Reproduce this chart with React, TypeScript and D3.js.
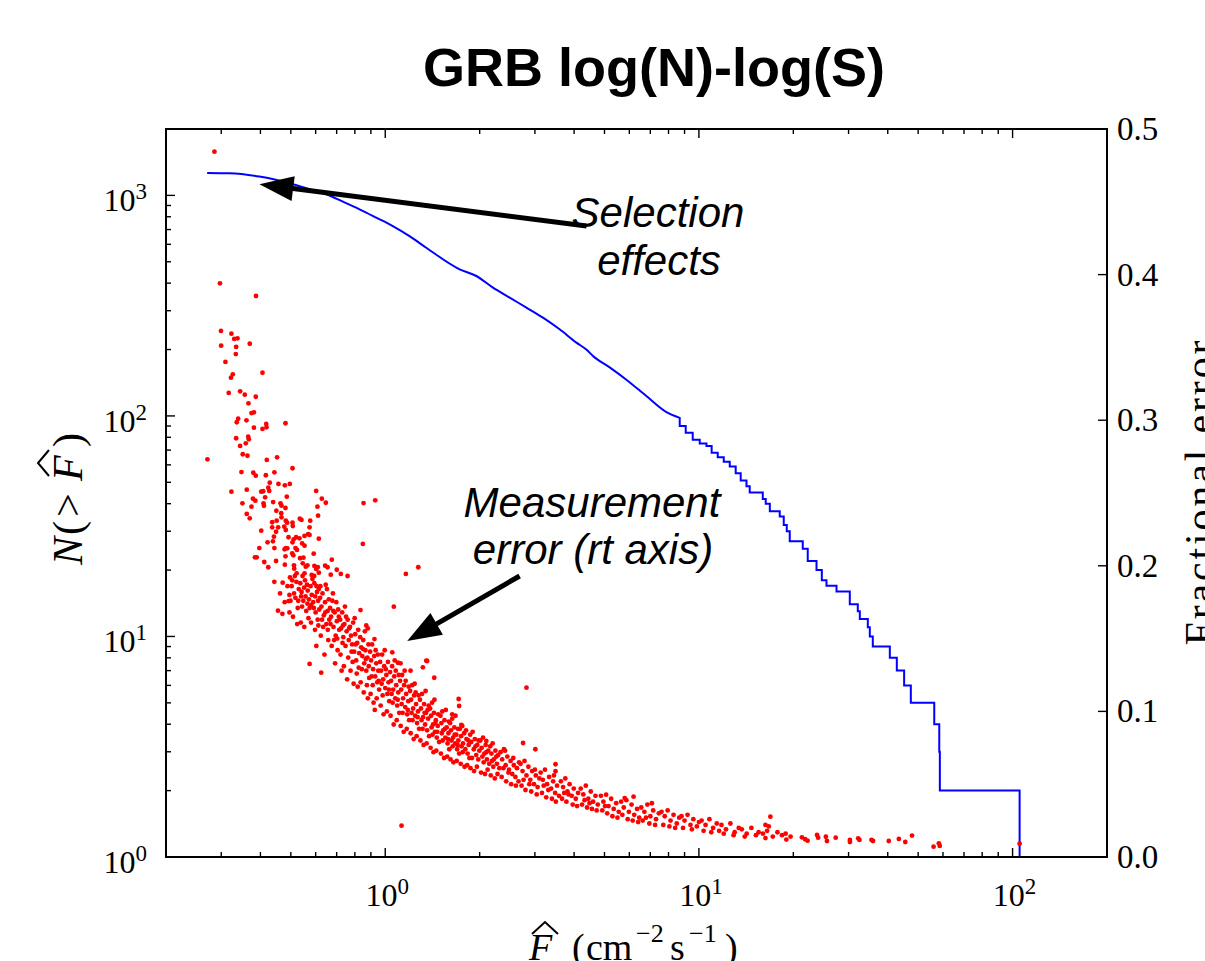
import React from "react";
import * as d3 from "d3";

const W = 1205;
const H = 961;
const M = { left: 166, right: 1107, top: 129, bottom: 857 };

// ---- axis ticks / labels ----
const xDomain = [0.2, 200];
const yDomain = [1, 2000];
const rDomain = [0, 0.5];
const xMajorTicks = [1, 10, 100];
const xTickExponents = ["0", "1", "2"];
const yMajorTicks = [1, 10, 100, 1000];
const yTickExponents = ["0", "1", "2", "3"];
const rightTicks = [0, 0.1, 0.2, 0.3, 0.4, 0.5];
const rightTickLabels = ["0.0", "0.1", "0.2", "0.3", "0.4", "0.5"];

// ---- cumulative counts N(>F) (blue) ----
const headFlux = [0.2705, 0.3187, 0.397, 0.5073, 0.5735, 0.6483, 0.7326, 0.828, 0.936, 1.057, 1.195, 1.351, 1.726, 1.951, 2.199, 2.492, 2.818, 3.183, 3.597, 4.068, 4.376, 4.594, 5.194, 5.871, 6.8, 7.88, 8.686];
const headCount = [1264, 1260, 1217, 1123, 1066, 1012, 937, 865, 793, 726, 654, 579, 462, 431, 383, 344, 310, 279, 247, 215, 200, 187, 166, 146, 123, 104, 98];
const stepFlux = [8.686, 9.077, 9.555, 10.06, 10.57, 10.98, 11.48, 12.0, 12.54, 13.1, 13.59, 14.18, 14.52, 15.98, 16.33, 16.83, 18.1, 18.64, 19.06, 19.48, 21.43, 22.23, 23.71, 24.65, 25.51, 27.46, 30.27, 32.1, 32.58, 34.55, 35.06, 35.84, 40.61, 42.75, 45.11, 47.38, 56.27, 58.38, 58.63, 105.3];
const stepCount = [90, 84, 78, 75, 73, 68, 65, 62, 59, 55, 51, 48, 45, 42, 40, 37, 35, 32, 30, 27, 25, 22, 20, 18, 17, 16, 14, 13, 12, 11, 10, 9, 8, 7, 6, 5, 4, 3, 2, 1];

// ---- fractional errors (red, right axis): [flux, error] ----
const sparseErrors = [
[0.2854,0.4844],[0.2972,0.394],[0.3872,0.3853],[0.2994,0.3613],[0.3233,0.3594],[0.33,0.3558],[0.338,0.3562],[0.3699,0.3525],[0.2998,0.3512],[0.3347,0.3503],[0.3339,0.3454],[0.3094,0.34],[0.4061,0.3326],[0.3266,0.3315],[0.3223,0.3292],[0.317,0.3187],[0.3446,0.3198],[0.3566,0.3175],[0.3866,0.3161],[0.3664,0.3116],[0.3746,0.3049],[0.3813,0.3054],[0.3397,0.301],[0.3362,0.2986],[0.361,0.2999],[0.3813,0.2949],[0.4061,0.294],[0.4183,0.2951],[0.4174,0.2974],[0.4808,0.2979],[0.3347,0.2876],[0.3657,0.2887],[0.3673,0.2869],[0.3593,0.2841],[0.3446,0.2823],[0.3514,0.2766],[0.3637,0.2756],[0.2711,0.2731],[0.4192,0.2727],[0.452,0.2745],[0.5062,0.267],[0.348,0.2644],[0.3797,0.2639],[0.3866,0.2619],[0.4163,0.2622],[0.4432,0.2642],[0.4284,0.2571],[0.4238,0.2536],[0.4267,0.2514],[0.4566,0.2562],[0.4786,0.2553],[0.4963,0.2562],[0.3233,0.2509],[0.3618,0.2523],[0.4024,0.2509],[0.4082,0.2512],[0.4141,0.247],[0.6023,0.2514],[0.6278,0.2461],[0.6465,0.2433],[0.8527,0.2431],[0.9291,0.245],[0.3505,0.2429],[0.3786,0.2461],[0.3853,0.2447],[0.3746,0.2406],[0.4092,0.2429],[0.4105,0.2412],[0.4391,0.2438],[0.4635,0.2429],[0.4669,0.2413],[0.4808,0.2397],[0.4854,0.2475],[0.6079,0.2406],[0.6107,0.2344],[0.3618,0.2356],[0.3699,0.2326],[0.4497,0.2378],[0.4659,0.2361],[0.4669,0.2333],[0.4361,0.2299],[0.4507,0.231],[0.4818,0.231],[0.4866,0.2296],[0.5062,0.2296],[0.5073,0.2273],[0.534,0.2324],[0.5407,0.2315],[0.5765,0.231],[0.5737,0.2264],[0.4024,0.2241],[0.4361,0.2264],[0.4556,0.2264],[0.4765,0.2269],[0.4818,0.2246],[0.4917,0.2196],[0.5106,0.2182],[0.4416,0.22],[0.4384,0.2168],[0.4215,0.2161],[0.4487,0.2234],[0.5327,0.2189],[0.5195,0.2196],[0.5062,0.2161],[0.5529,0.2205],[0.5679,0.2218],[0.5737,0.2212],[0.5434,0.2154],[0.5529,0.2138],[0.6141,0.2186],[0.8484,0.215],[0.3968,0.2122],[0.4432,0.2122],[0.4775,0.2113],[0.4818,0.2122],[0.4874,0.212],[0.5174,0.2122],[0.5232,0.2109],[0.5051,0.2086],[0.5093,0.2072],[0.5914,0.2083],[0.6755,0.2042],[0.3842,0.2058],[0.3892,0.2058],[0.4114,0.2026],[0.4238,0.199],[0.4487,0.2033],[0.4808,0.2065],[0.4786,0.2008],[0.5117,0.2003],[0.5126,0.198],[0.5352,0.2052],[0.5485,0.2056],[0.5457,0.2017],[0.5579,0.1994],[0.5648,0.2003],[0.5944,0.1999],[0.6094,0.199],[0.6023,0.1978],[0.6432,0.2001],[0.6546,0.199],[0.7007,0.1973],[0.5219,0.1948],[0.5529,0.1948],[0.5829,0.1937],[0.5935,0.193],[0.6141,0.1953],[0.6704,0.1939],[0.7217,0.1944],[0.7584,0.193],[1.1634,0.1944],[1.2746,0.199],[1.065,0.1719],
[0.443,0.189],[0.471,0.1884],[0.495,0.18],[0.492,0.1758],[0.455,0.1692],[0.574,0.1326],[0.625,0.1266],[0.834,0.1696],[0.87,0.159],[0.88,0.157],[0.924,0.1497],[1.053,0.1406],[1.097,0.1334],[1.119,0.133],[1.351,0.1348],[1.318,0.1303],[1.36,0.1346],[1.204,0.128],[1.433,0.1231],[1.714,0.1085],[1.72,0.1037],[2.82,0.1163],[2.75,0.0783],[3.01,0.074],[1.635,0.098],[1.748,0.0907],[2.1,0.0797],[2.41,0.073],[3.49,0.0637],[3.49,0.0589],[5.06,0.0428],[6.19,0.0414],[5.8,0.0405],[7.08,0.0369],[1.127,0.0215],[16.9,0.0277],[16.3,0.022],
[0.462,0.181],[0.478,0.175],[0.488,0.186],[0.47,0.167]
];

const bandErrors = [
[0.497,0.192],[0.503,0.186],[0.512,0.181],[0.499,0.176],[0.521,0.189],[0.526,0.171],[0.508,0.165],[0.517,0.178],[0.53,0.184],[0.495,0.168],[0.524,0.16],[0.515,0.193],[0.505,0.19],[0.528,0.176],
[0.536,0.188],[0.541,0.182],[0.548,0.176],[0.555,0.19],[0.56,0.169],[0.566,0.183],[0.571,0.177],[0.538,0.161],[0.552,0.158],[0.563,0.187],[0.545,0.193],[0.569,0.164],[0.557,0.179],[0.574,0.171],[0.543,0.172],[0.551,0.185],[0.565,0.174],[0.539,0.179],
[0.578,0.186],[0.583,0.18],[0.589,0.175],[0.594,0.188],[0.6,0.168],[0.606,0.182],[0.611,0.176],[0.616,0.17],[0.58,0.161],[0.597,0.156],[0.603,0.145],[0.586,0.191],[0.609,0.163],[0.592,0.171],[0.614,0.184],[0.598,0.179],[0.581,0.173],[0.604,0.186],[0.612,0.159],
[0.62,0.178],[0.626,0.172],[0.631,0.181],[0.637,0.166],[0.643,0.175],[0.649,0.16],[0.655,0.169],[0.661,0.177],[0.623,0.152],[0.64,0.139],[0.652,0.184],[0.634,0.158],[0.658,0.149],[0.646,0.187],[0.629,0.163],[0.663,0.163],[0.621,0.186],[0.644,0.168],[0.656,0.156],
[0.667,0.171],[0.672,0.165],[0.678,0.176],[0.684,0.158],[0.69,0.168],[0.695,0.152],[0.701,0.162],[0.708,0.17],[0.713,0.156],[0.675,0.145],[0.692,0.133],[0.705,0.142],[0.681,0.181],[0.698,0.175],[0.687,0.149],[0.711,0.165],[0.669,0.16],[0.703,0.15],[0.683,0.169],
[0.718,0.163],[0.723,0.157],[0.729,0.168],[0.735,0.151],[0.741,0.16],[0.747,0.145],[0.753,0.155],[0.759,0.163],[0.765,0.149],[0.72,0.139],[0.738,0.131],[0.756,0.122],[0.744,0.172],[0.731,0.147],[0.762,0.137],[0.726,0.128],[0.75,0.165],[0.767,0.157],[0.733,0.159],
[0.772,0.158],[0.778,0.152],[0.784,0.146],[0.79,0.161],[0.796,0.141],[0.802,0.153],[0.808,0.135],[0.814,0.147],[0.82,0.156],[0.826,0.14],[0.775,0.128],[0.793,0.119],[0.811,0.126],[0.787,0.134],[0.817,0.117],[0.799,0.164],[0.781,0.141],[0.805,0.146],[0.823,0.13],
[0.832,0.151],[0.838,0.144],[0.845,0.138],[0.851,0.149],[0.857,0.133],[0.864,0.142],[0.87,0.128],[0.877,0.137],[0.884,0.146],[0.889,0.123],[0.835,0.12],[0.854,0.113],[0.874,0.118],[0.842,0.129],[0.88,0.109],[0.861,0.155],[0.848,0.143],[0.867,0.136],[0.886,0.131],
[0.895,0.141],[0.901,0.135],[0.908,0.146],[0.915,0.129],[0.922,0.138],[0.929,0.124],[0.936,0.133],[0.943,0.12],[0.95,0.128],[0.956,0.115],[0.898,0.112],[0.918,0.106],[0.939,0.109],[0.912,0.118],[0.947,0.139],[0.926,0.101],[0.905,0.124],[0.932,0.142],[0.953,0.121],
[0.963,0.134],[0.97,0.128],[0.977,0.139],[0.985,0.122],[0.992,0.131],[1.0,0.116],[1.008,0.125],[1.016,0.112],[1.024,0.12],[1.03,0.107],[0.967,0.104],[0.988,0.098],[1.012,0.1],[0.981,0.111],[1.02,0.134],[0.996,0.142],[0.974,0.119],[1.004,0.129],[1.027,0.115],
[1.036,0.127],[1.044,0.121],[1.052,0.131],[1.06,0.115],[1.068,0.124],[1.076,0.109],[1.084,0.118],[1.092,0.104],[1.1,0.113],[1.108,0.099],[1.04,0.097],[1.064,0.091],[1.088,0.094],[1.056,0.106],[1.104,0.125],[1.072,0.135],[1.048,0.112],[1.08,0.128],[1.096,0.108],
[1.115,0.121],[1.124,0.115],[1.132,0.125],[1.14,0.109],[1.149,0.118],[1.158,0.103],[1.166,0.112],[1.175,0.098],[1.184,0.107],[1.192,0.094],[1.12,0.09],[1.145,0.086],[1.171,0.088],[1.136,0.099],[1.188,0.117],[1.153,0.128],[1.128,0.105],[1.162,0.121],[1.18,0.101],
[1.2,0.114],[1.209,0.108],[1.218,0.118],[1.227,0.102],[1.236,0.111],[1.245,0.097],[1.254,0.105],[1.263,0.092],[1.272,0.1],[1.282,0.088],[1.205,0.085],[1.232,0.081],[1.259,0.083],[1.222,0.094],[1.277,0.111],[1.241,0.119],[1.213,0.099],[1.25,0.113],[1.268,0.096],
[1.29,0.108],[1.3,0.102],[1.31,0.112],[1.32,0.096],[1.33,0.105],[1.34,0.091],[1.35,0.099],[1.36,0.087],[1.37,0.095],[1.38,0.083],[1.295,0.08],[1.325,0.077],[1.355,0.078],[1.315,0.088],[1.375,0.104],[1.345,0.114],[1.305,0.094],[1.335,0.099],[1.365,0.101],
[1.39,0.102],[1.4,0.097],[1.41,0.106],[1.42,0.091],[1.43,0.099],[1.44,0.086],[1.45,0.094],[1.46,0.082],[1.47,0.09],[1.485,0.079],[1.395,0.075],[1.425,0.072],[1.455,0.073],[1.415,0.084],[1.475,0.098],[1.435,0.108],[1.405,0.089],[1.445,0.092],[1.465,0.086],
[1.5,0.097],[1.51,0.092],[1.52,0.1],[1.53,0.087],[1.545,0.094],[1.555,0.082],[1.57,0.089],[1.58,0.078],[1.59,0.085],[1.6,0.074],[1.505,0.071],[1.54,0.068],[1.575,0.069],[1.525,0.08],[1.595,0.093],[1.56,0.101],[1.515,0.085],[1.55,0.088],[1.585,0.081],
[1.61,0.092],[1.62,0.087],[1.635,0.095],[1.645,0.082],[1.66,0.089],[1.67,0.078],[1.685,0.084],[1.695,0.074],[1.71,0.08],[1.72,0.071],[1.615,0.067],[1.65,0.065],[1.69,0.066],[1.64,0.076],[1.705,0.088],[1.675,0.097],[1.625,0.08],[1.665,0.084],[1.7,0.077],
[1.73,0.088],[1.745,0.083],[1.76,0.09],[1.77,0.078],[1.785,0.085],[1.8,0.074],[1.815,0.081],[1.83,0.071],[1.845,0.077],[1.855,0.068],[1.74,0.064],[1.79,0.062],[1.825,0.063],[1.765,0.072],[1.75,0.076],[1.81,0.087],[1.84,0.08],
[1.865,0.084],[1.88,0.079],[1.9,0.086],[1.915,0.074],[1.93,0.081],[1.95,0.07],[1.965,0.077],[1.98,0.067],[1.995,0.073],[1.87,0.061],[1.92,0.059],[1.96,0.062],[1.89,0.068],[1.94,0.076],[1.985,0.08],
[2.01,0.08],[2.03,0.075],[2.05,0.082],[2.07,0.071],[2.09,0.077],[2.11,0.067],[2.13,0.073],[2.145,0.064],[2.02,0.058],[2.08,0.057],[2.12,0.06],[2.06,0.065],[2.04,0.069],[2.1,0.072],
[2.16,0.076],[2.18,0.071],[2.2,0.078],[2.22,0.067],[2.245,0.073],[2.27,0.064],[2.29,0.07],[2.31,0.061],[2.17,0.056],[2.235,0.054],[2.28,0.057],[2.21,0.062],[2.19,0.066],[2.26,0.069],
[2.33,0.072],[2.36,0.067],[2.39,0.074],[2.42,0.063],[2.45,0.069],[2.48,0.06],[2.51,0.066],[2.54,0.057],[2.57,0.063],[2.6,0.055],[2.63,0.061],[2.66,0.052],[2.35,0.055],[2.43,0.052],[2.52,0.05],[2.61,0.049],[2.47,0.058],[2.67,0.065],[2.38,0.061],[2.56,0.068],
[2.7,0.064],[2.74,0.059],[2.78,0.066],[2.82,0.056],[2.86,0.062],[2.9,0.053],[2.94,0.059],[2.98,0.05],[3.02,0.056],[3.06,0.048],[3.1,0.054],[2.72,0.049],[2.8,0.046],[2.92,0.045],[3.04,0.043],[2.88,0.05],[2.76,0.053],[3.0,0.06],
[3.13,0.058],[3.18,0.053],[3.23,0.06],[3.28,0.05],[3.33,0.055],[3.38,0.047],[3.43,0.052],[3.48,0.044],[3.53,0.049],[3.58,0.042],[3.16,0.044],[3.26,0.041],[3.4,0.04],[3.5,0.038],[3.31,0.046],[3.2,0.049],[3.45,0.056],
[3.63,0.052],[3.69,0.048],[3.75,0.054],[3.81,0.045],[3.87,0.05],[3.93,0.042],[3.99,0.047],[4.05,0.04],[4.12,0.044],[3.66,0.04],[3.78,0.038],[3.96,0.036],[4.09,0.035],[3.84,0.043],[3.72,0.044],
[4.2,0.047],[4.28,0.043],[4.36,0.049],[4.44,0.04],[4.52,0.045],[4.6,0.038],[4.68,0.042],[4.76,0.036],[4.24,0.036],[4.4,0.034],[4.56,0.033],[4.72,0.032],[4.32,0.039],[4.48,0.037],
[4.87,0.042],[4.96,0.038],[5.15,0.035],[5.25,0.04],[5.35,0.033],[5.45,0.037],[5.55,0.031],[4.92,0.032],[5.1,0.03],[5.3,0.028],[5.5,0.027],[5.02,0.035],
[5.65,0.038],[5.76,0.034],[5.87,0.039],[5.98,0.031],[6.1,0.036],[6.22,0.029],[6.35,0.033],[6.45,0.027],[5.7,0.029],[5.93,0.026],[6.15,0.025],[6.4,0.024],
[6.55,0.034],[6.7,0.031],[6.85,0.036],[7.0,0.028],[7.15,0.032],[7.3,0.026],[7.45,0.03],[6.62,0.025],[6.95,0.023],[7.25,0.022],[6.78,0.027],
[7.6,0.031],[7.78,0.028],[7.95,0.032],[8.12,0.025],[8.3,0.029],[8.5,0.023],[8.65,0.027],[7.7,0.022],[8.05,0.021],[8.4,0.02],
[8.8,0.028],[9.0,0.025],[9.2,0.029],[9.4,0.022],[9.6,0.026],[9.85,0.021],[10.0,0.024],[8.9,0.02],[9.5,0.019],
[10.2,0.025],[10.5,0.022],[10.8,0.026],[11.1,0.02],[11.4,0.023],[10.35,0.018],[10.95,0.017],[11.6,0.018],
[11.8,0.022],[12.2,0.019],[12.6,0.023],[13.0,0.017],[13.4,0.02],[12.0,0.016],[12.9,0.015],
[13.7,0.019],[14.2,0.016],[14.7,0.02],[15.2,0.015],[14.0,0.014],[15.5,0.017],
[16.0,0.016],[16.3,0.013],[16.7,0.021],[17.2,0.014],[17.8,0.017],[18.4,0.015],[19.0,0.012],[19.6,0.014],[16.5,0.018],[18.9,0.016]
];

const tailErrors = [
[21.3,0.0135],[21.8,0.0122],[22.2,0.0112],[23.8,0.0151],[24.0,0.0133],[25.4,0.0139],[25.6,0.011],[27.3,0.0133],[30.3,0.0117],[30.3,0.0103],[32.2,0.0128],[32.5,0.0117],[35.5,0.0117],[35.9,0.011],[40.3,0.011],[43.4,0.0124],[45.5,0.0103],[47.8,0.0147],[56.0,0.0071],[58.2,0.0094],[58.6,0.0076],[105.3,0.0091]
];

// annotation anchors (data coordinates)
const selectionArrow = { tail: [4.384, 726], tip: [0.397, 1123] }; // left axis
const measureArrow = { tail: [2.682, 0.193], tip: [1.175, 0.1484] }; // right axis

const SERIF = "'Liberation Serif', 'Times New Roman', serif";
const SANS = "'Liberation Sans', Arial, Helvetica, sans-serif";

function Arrow({ tail, tip }: { tail: number[]; tip: number[] }) {
  const dx = tip[0] - tail[0];
  const dy = tip[1] - tail[1];
  const len = Math.hypot(dx, dy);
  const ux = dx / len, uy = dy / len;
  const headLen = 34, headW = 12.5;
  const bx = tip[0] - ux * headLen, by = tip[1] - uy * headLen;
  const px = -uy, py = ux;
  return (
    <g>
      <line x1={tail[0]} y1={tail[1]} x2={bx + ux * 4} y2={by + uy * 4} stroke="#000" strokeWidth={5} />
      <polygon
        points={`${tip[0]},${tip[1]} ${bx + px * headW},${by + py * headW} ${bx - px * headW},${by - py * headW}`}
        fill="#000"
      />
    </g>
  );
}

export default function App() {
  const x = d3.scaleLog().domain(xDomain).range([M.left, M.right]);
  const y = d3.scaleLog().domain(yDomain).range([M.bottom, M.top]);
  const yR = d3.scaleLinear().domain(rDomain).range([M.bottom, M.top]);

  const isMajor = (t: number) => Math.abs(Math.log10(t) - Math.round(Math.log10(t))) < 1e-9;
  const xMinor = x.ticks().filter((t) => !isMajor(t) && t > xDomain[0] * 1.001 && t < xDomain[1] * 0.999);
  const yMinor = y.ticks().filter((t) => !isMajor(t) && t < yDomain[1] * 0.999);

  const head = headFlux.map((f, i) => [f, headCount[i]]);
  const steps = stepFlux.map((f, i) => [f, stepCount[i]]);
  const lin = d3.line<number[]>().x((d) => x(d[0])).y((d) => y(d[1])).curve(d3.curveMonotoneX);
  const stp = d3.line<number[]>().x((d) => x(d[0])).y((d) => y(d[1])).curve(d3.curveStepAfter);
  const curvePath = (lin(head) || "") + (stp(steps) || "").replace(/^M/, "L");

  const allErrors = [...sparseErrors, ...bandErrors, ...tailErrors];

  const sel = {
    tail: [x(selectionArrow.tail[0]), y(selectionArrow.tail[1])],
    tip: [x(selectionArrow.tip[0]), y(selectionArrow.tip[1])],
  };
  const mea = {
    tail: [x(measureArrow.tail[0]), yR(measureArrow.tail[1])],
    tip: [x(measureArrow.tip[0]), yR(measureArrow.tip[1])],
  };

  return (
    <svg width={W} height={H} style={{ position: "absolute", left: 0, top: 0, background: "#fff" }}>
      <rect x={0} y={0} width={W} height={H} fill="#fff" />
      <defs>
        <clipPath id="plotclip">
          <rect x={M.left} y={M.top} width={M.right - M.left} height={M.bottom - M.top} />
        </clipPath>
      </defs>

      {/* title */}
      <text x={654} y={86} textAnchor="middle" fontFamily={SANS} fontWeight="bold" fontSize={54} fill="#000">
        GRB log(N)-log(S)
      </text>

      {/* data */}
      <g clipPath="url(#plotclip)">
        <path d={curvePath} fill="none" stroke="#0000ff" strokeWidth={2} />
        {allErrors.map((p, i) => (
          <circle key={i} cx={x(p[0])} cy={yR(p[1])} r={2.4} fill="#ff0000" />
        ))}
      </g>

      {/* ticks */}
      <g stroke="#000" strokeWidth={1.4}>
        {yMajorTicks.map((t) => (
          <line key={"ly" + t} x1={M.left} x2={M.left + 9} y1={y(t)} y2={y(t)} />
        ))}
        {yMinor.map((t) => (
          <line key={"lym" + t} x1={M.left} x2={M.left + 5} y1={y(t)} y2={y(t)} />
        ))}
        {xMajorTicks.map((t) => (
          <g key={"xt" + t}>
            <line x1={x(t)} x2={x(t)} y1={M.bottom} y2={M.bottom - 9} />
            <line x1={x(t)} x2={x(t)} y1={M.top} y2={M.top + 9} />
          </g>
        ))}
        {xMinor.map((t) => (
          <g key={"xm" + t}>
            <line x1={x(t)} x2={x(t)} y1={M.bottom} y2={M.bottom - 5} />
            <line x1={x(t)} x2={x(t)} y1={M.top} y2={M.top + 5} />
          </g>
        ))}
        {rightTicks.map((t) => (
          <line key={"r" + t} x1={M.right} x2={M.right - 9} y1={yR(t)} y2={yR(t)} />
        ))}
      </g>

      {/* frame */}
      <rect x={M.left} y={M.top} width={M.right - M.left} height={M.bottom - M.top} fill="none" stroke="#000" strokeWidth={2} />

      {/* tick labels */}
      <g fontFamily={SERIF} fill="#000">
        {yMajorTicks.map((t, i) => (
          <text key={"yl" + t} x={147} y={y(t) + 16} textAnchor="end" fontSize={32}>
            10<tspan dy={-12} fontSize={23}>{yTickExponents[i]}</tspan>
          </text>
        ))}
        {xMajorTicks.map((t, i) => (
          <text key={"xl" + t} x={x(t) + 2} y={906} textAnchor="middle" fontSize={32}>
            10<tspan dy={-12} fontSize={23}>{xTickExponents[i]}</tspan>
          </text>
        ))}
        {rightTicks.map((t, i) => (
          <text key={"rl" + t} x={1117} y={yR(t) + 11} fontSize={33}>
            {rightTickLabels[i]}
          </text>
        ))}
      </g>

      {/* y label N(> F^) */}
      <g transform="translate(82,497) rotate(-90)" fontFamily={SERIF} fill="#000" fontSize={42}>
        <text x={-68} y={0} fontStyle="italic">N</text>
        <text x={-38} y={0}>(</text>
        <text x={-20} y={0}>&gt;</text>
        <text x={16} y={0} fontStyle="italic">F</text>
        <text x={50} y={0}>)</text>
        <path d="M21,-33 L34,-44 L47,-33" fill="none" stroke="#000" strokeWidth={2} />
      </g>

      {/* x label F^ (cm^-2 s^-1) */}
      <g fontFamily={SERIF} fill="#000" fontSize={38}>
        <text x={529} y={960} fontStyle="italic">F</text>
        <path d="M532,934 L545,922 L558,934" fill="none" stroke="#000" strokeWidth={2} />
        <text x={572} y={960}>(</text>
        <text x={586} y={960}>cm</text>
        <text x={636} y={942} fontSize={26}>−2</text>
        <text x={670} y={960}>s</text>
        <text x={689} y={942} fontSize={26}>−1</text>
        <text x={725} y={960}>)</text>
      </g>

      {/* right label */}
      <g transform="translate(1214,493) rotate(-90)">
        <text x={0} y={0} textAnchor="middle" fontFamily={SERIF} fontSize={42} textLength={305} lengthAdjust="spacing" fill="#000">
          Fractional error
        </text>
      </g>

      {/* annotations */}
      <Arrow tail={sel.tail} tip={sel.tip} />
      <Arrow tail={mea.tail} tip={mea.tip} />
      <g fontFamily={SANS} fontStyle="italic" fontSize={42} fill="#000" textAnchor="middle">
        <text x={658} y={227}>Selection</text>
        <text x={659} y={275}>effects</text>
        <text x={592} y={517}>Measurement</text>
        <text x={593} y={564}>error (rt axis)</text>
      </g>
    </svg>
  );
}
